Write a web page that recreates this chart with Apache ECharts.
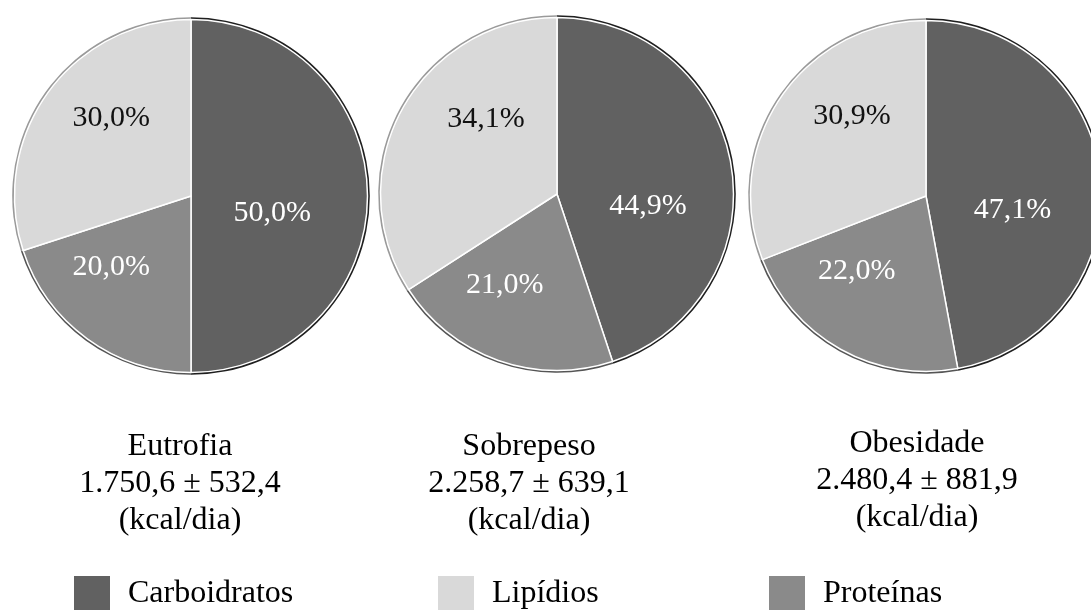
<!DOCTYPE html>
<html lang="pt">
<head>
<meta charset="utf-8">
<title>Distribuição de macronutrientes por estado nutricional</title>
<script src="https://cdn.jsdelivr.net/npm/echarts@6/dist/echarts.min.js"></script>
<style>
  html, body { margin: 0; padding: 0; background: #ffffff; }
  #chart { width: 1091px; height: 610px; }
</style>
</head>
<body>
<div id="chart"></div>
<script>
// ---- data ----
const nutrients = ['Carboidratos', 'Lipídios', 'Proteínas'];
const groups = ['Eutrofia', 'Sobrepeso', 'Obesidade'];
// share of energy intake (%), in the order of `nutrients`
const eutrofiaPct  = [50.0, 30.0, 20.0];
const sobrepesoPct = [44.9, 34.1, 21.0];
const obesidadePct = [47.1, 30.9, 22.0];
// mean ± SD daily energy intake (kcal/dia)
const energyMean = ['1.750,6', '2.258,7', '2.480,4'];
const energySd   = ['532,4', '639,1', '881,9'];
const energyUnit = '(kcal/dia)';

// ---- styling ----
const FONT = "'Liberation Serif', 'Times New Roman', serif";
const sliceColor = { 'Carboidratos': '#616161', 'Lipídios': '#d9d9d9', 'Proteínas': '#8a8a8a' };
const rimColor   = { 'Carboidratos': '#1f1f1f', 'Lipídios': '#9a9a9a', 'Proteínas': '#555555' };
const labelColor = { 'Carboidratos': '#ffffff', 'Lipídios': '#111111', 'Proteínas': '#ffffff' };
// slices run clockwise from 12 o'clock in this order
const drawOrder = ['Carboidratos', 'Proteínas', 'Lipídios'];

const pieLayout = [
  { center: [191, 196], radius: 178, textX: 180, textY: 428 },
  { center: [557, 194], radius: 178, textX: 529, textY: 428 },
  { center: [926, 196], radius: 177, textX: 917, textY: 425 }
];
// small shifts of the percentage labels inside each slice, by nutrient
const labelShift = [
  { 'Carboidratos': [-10, 17], 'Proteínas': [-26, -3],  'Lipídios': [-6, -24] },
  { 'Carboidratos': [1, 27],   'Proteínas': [-22, 5],   'Lipídios': [9, -31] },
  { 'Carboidratos': [-4, 22],  'Proteínas': [-25, -4],  'Lipídios': [1, -29] }
];
const legendLeft = [74, 438, 769];

const groupValues = [eutrofiaPct, sobrepesoPct, obesidadePct];

function fmtPct(v) {
  return v.toFixed(1).replace('.', ',') + '%';
}

const series = [];
groupValues.forEach(function (vals, g) {
  const ordered = drawOrder.map(function (name) {
    return { name: name, value: vals[nutrients.indexOf(name)] };
  });
  const r = pieLayout[g].radius;

  // thin darker rim along the outer edge of each slice
  series.push({
    type: 'pie',
    name: groups[g] + ' (contorno)',
    center: pieLayout[g].center,
    radius: [r - 1.5, r + 0.8],
    startAngle: 90,
    clockwise: true,
    silent: true,
    z: 1,
    label: { show: false },
    labelLine: { show: false },
    itemStyle: { borderWidth: 0 },
    data: ordered.map(function (d) {
      return { name: d.name, value: d.value, itemStyle: { color: rimColor[d.name] } };
    })
  });

  // the slices themselves, with their percentage labels
  series.push({
    type: 'pie',
    name: groups[g],
    center: pieLayout[g].center,
    radius: [0, r - 1.5],
    startAngle: 90,
    clockwise: true,
    avoidLabelOverlap: false,
    silent: true,
    z: 2,
    itemStyle: {
      borderColor: '#ffffff',
      borderWidth: 1.5
    },
    label: {
      show: true,
      position: 'inside',
      fontFamily: FONT,
      fontSize: 30,
      formatter: function (p) { return fmtPct(p.value); }
    },
    labelLine: { show: false },
    labelLayout: function (params) {
      const s = labelShift[g][ordered[params.dataIndex].name];
      return { dx: s[0], dy: s[1] };
    },
    data: ordered.map(function (d) {
      return {
        name: d.name,
        value: d.value,
        itemStyle: { color: sliceColor[d.name] },
        label: { color: labelColor[d.name] }
      };
    })
  });
});

const legends = nutrients.map(function (name, i) {
  return {
    left: legendLeft[i],
    top: 576,
    padding: 0,
    orient: 'horizontal',
    icon: 'rect',
    itemWidth: 36,
    itemHeight: 36,
    selectedMode: false,
    data: [{ name: name, itemStyle: { color: sliceColor[name], borderWidth: 0 } }],
    textStyle: {
      fontFamily: FONT,
      fontSize: 32,
      color: '#000000',
      padding: [0, 0, 0, 13]
    }
  };
});

const captions = groups.map(function (name, g) {
  return {
    type: 'text',
    x: pieLayout[g].textX,
    y: pieLayout[g].textY,
    silent: true,
    style: {
      text: name + '\n' + energyMean[g] + ' ± ' + energySd[g] + '\n' + energyUnit,
      fill: '#000000',
      font: '32px ' + FONT,
      align: 'center',
      verticalAlign: 'top',
      lineHeight: 37
    }
  };
});

const chart = echarts.init(document.getElementById('chart'), null, { renderer: 'canvas' });
chart.setOption({
  animation: false,
  backgroundColor: '#ffffff',
  legend: legends,
  series: series,
  graphic: captions
});
</script>
</body>
</html>
